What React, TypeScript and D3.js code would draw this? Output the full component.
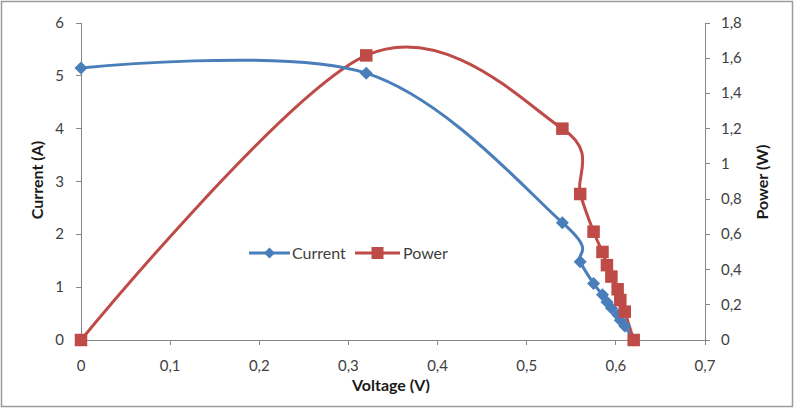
import React from "react";
import * as d3 from "d3";

// Solar cell I-V and P-V measurement
const voltage = [0, 0.32, 0.54, 0.56, 0.575, 0.585, 0.59, 0.595, 0.602, 0.605, 0.61, 0.62];
const current = [5.15, 5.05, 2.22, 1.48, 1.07, 0.855, 0.72, 0.605, 0.478, 0.375, 0.264, 0];
const power = [0, 1.616, 1.2, 0.829, 0.615, 0.5, 0.425, 0.36, 0.288, 0.227, 0.161, 0];

const xTicks = [0, 0.1, 0.2, 0.3, 0.4, 0.5, 0.6, 0.7];
const leftTicks = [0, 1, 2, 3, 4, 5, 6];
const rightTicks = [0, 0.2, 0.4, 0.6, 0.8, 1, 1.2, 1.4, 1.6, 1.8];

const W = 795;
const H = 409;
const BLUE = "#4A7EBB";
const RED = "#BE4B48";
const AXIS = "#868686";
const TEXT = "#404040";
const FONT = "Lato, 'Noto Sans', sans-serif";

const fmt = (v: number) => String(+v.toFixed(2)).replace(".", ",");

export default function App() {
  const x = d3.scaleLinear().domain([0, 0.7]).range([81, 705]);
  const yL = d3.scaleLinear().domain([0, 6]).range([340, 23]);
  const yR = d3.scaleLinear().domain([0, 1.8]).range([340, 23]);

  const curve = d3.curveCatmullRom.alpha(0);
  const currentLine = d3
    .line<number>()
    .x((_, i) => x(voltage[i]))
    .y((d) => yL(d))
    .curve(curve)(current) as string;
  const powerLine = d3
    .line<number>()
    .x((_, i) => x(voltage[i]))
    .y((d) => yR(d))
    .curve(curve)(power) as string;

  const diamond = (cx: number, cy: number, r = 6.5) =>
    `M${cx},${cy - r}L${cx + r},${cy}L${cx},${cy + r}L${cx - r},${cy}Z`;
  const sq = 12.5;

  return (
    <svg
      width={W}
      height={H}
      style={{ position: "absolute", left: 0, top: 0, background: "#fff" }}
      fontFamily={FONT}
    >
      <rect x={1.5} y={1.5} width={W - 4} height={H - 4} fill="#fff" stroke="#9a9a9a" strokeWidth={1.5} />

      {/* axes */}
      <g stroke={AXIS} strokeWidth={1} shapeRendering="crispEdges">
        <line x1={x(0)} x2={x(0.7)} y1={yL(0)} y2={yL(0)} />
        <line x1={x(0)} x2={x(0)} y1={yL(0)} y2={yL(6)} />
        <line x1={x(0.7)} x2={x(0.7)} y1={yR(0)} y2={yR(1.8)} />
        {xTicks.map((t) => (
          <line key={"xt" + t} x1={x(t)} x2={x(t)} y1={yL(0)} y2={yL(0) + 5} />
        ))}
        {leftTicks.map((t) => (
          <line key={"lt" + t} x1={x(0) - 5} x2={x(0)} y1={yL(t)} y2={yL(t)} />
        ))}
        {rightTicks.map((t) => (
          <line key={"rt" + t} x1={x(0.7)} x2={x(0.7) + 5} y1={yR(t)} y2={yR(t)} />
        ))}
      </g>

      {/* tick labels */}
      <g fill={TEXT} fontSize={15}>
        {xTicks.map((t) => (
          <text key={"xl" + t} x={x(t)} y={371} textAnchor="middle">
            {fmt(t)}
          </text>
        ))}
        {leftTicks.map((t) => (
          <text key={"ll" + t} x={64} y={yL(t) + 5} textAnchor="end">
            {fmt(t)}
          </text>
        ))}
        {rightTicks.map((t) => (
          <text key={"rl" + t} x={721} y={yR(t) + 5} textAnchor="start">
            {fmt(t)}
          </text>
        ))}
      </g>

      {/* axis titles */}
      <g fill="#1a1a1a" fontSize={16} fontWeight="bold">
        <text x={391} y={391} textAnchor="middle">Voltage (V)</text>
        <text transform={`translate(43,180) rotate(-90)`} textAnchor="middle">Current (A)</text>
        <text transform={`translate(768,182) rotate(-90)`} textAnchor="middle">Power (W)</text>
      </g>

      {/* series */}
      <path d={powerLine} fill="none" stroke={RED} strokeWidth={3} />
      <path d={currentLine} fill="none" stroke={BLUE} strokeWidth={3} />
      {current.map((c, i) => (
        <path key={"d" + i} d={diamond(x(voltage[i]), yL(c))} fill={BLUE} />
      ))}
      {power.map((p, i) => (
        <rect
          key={"s" + i}
          x={x(voltage[i]) - sq / 2}
          y={yR(p) - sq / 2}
          width={sq}
          height={sq}
          fill={RED}
        />
      ))}

      {/* legend */}
      <g fontSize={16} fill={TEXT}>
        <line x1={249} x2={290} y1={253} y2={253} stroke={BLUE} strokeWidth={3} />
        <path d={diamond(269.5, 253, 5.5)} fill={BLUE} />
        <text x={292} y={258.5}>Current</text>
        <line x1={355} x2={400} y1={253} y2={253} stroke={RED} strokeWidth={3} />
        <rect x={371.5} y={247} width={12} height={12} fill={RED} />
        <text x={403} y={258.5}>Power</text>
      </g>
    </svg>
  );
}
